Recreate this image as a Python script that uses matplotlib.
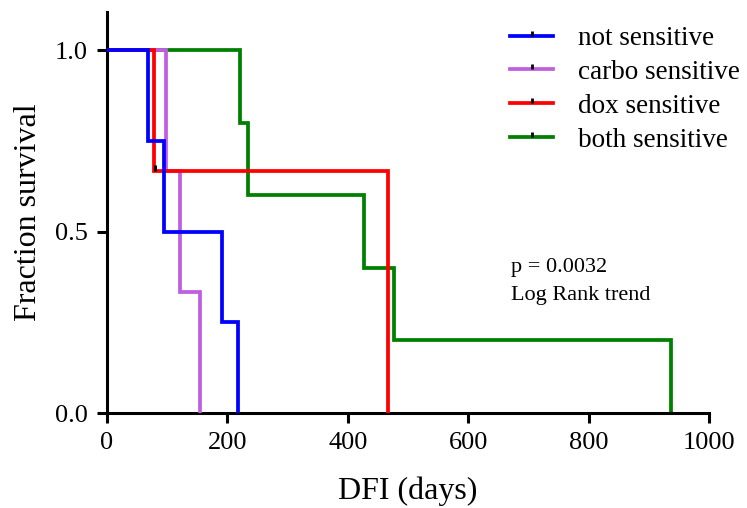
import matplotlib
matplotlib.use("Agg")
import matplotlib.pyplot as plt
from matplotlib.path import Path
from matplotlib.lines import Line2D

plt.rcParams['font.family'] = ['Liberation Serif', 'DejaVu Serif']

# Kaplan-Meier step data: event times (days) and survival fraction after each step
not_t = [0, 68, 95, 191, 218]
not_s = [1.0, 0.75, 0.5, 0.25, 0.0]

carbo_t = [0, 98, 121, 155]
carbo_s = [1.0, 2 / 3, 1 / 3, 0.0]

dox_t = [0, 78, 467]
dox_s = [1.0, 2 / 3, 0.0]

both_t = [0, 221, 234, 427, 477, 937]
both_s = [1.0, 0.8, 0.6, 0.4, 0.2, 0.0]

# censored observation
dox_cens_t = [80]
dox_cens_s = [2 / 3]

labels = ["not sensitive", "carbo sensitive", "dox sensitive", "both sensitive"]
colors = ["#0000FF", "#BF5FDF", "#FF0000", "#008000"]

x_ticks = [0, 200, 400, 600, 800, 1000]
y_ticks = [0.0, 0.5, 1.0]

W, H = 747, 508
fig = plt.figure(figsize=(W / 100, H / 100), dpi=100)
ax = fig.add_axes([107 / W, 1 - 413 / H, (709 - 107) / W, (413 - 12) / H])

lw = 2.7
series = [(not_t, not_s), (carbo_t, carbo_s), (dox_t, dox_s), (both_t, both_s)]
zorders = [5, 3, 4, 2]
for (t, s), c, z in zip(series, colors, zorders):
    ax.step(t, s, where="post", color=c, lw=lw, zorder=z, solid_joinstyle="miter")

# upward censor tick
tick_up = Path([(0, 0), (0, 1)], [Path.MOVETO, Path.LINETO])
ax.plot(dox_cens_t, dox_cens_s, ls="none", marker=tick_up, markersize=8,
        markeredgecolor="black", markeredgewidth=2.2, zorder=6)

ax.set_xlim(0, 1000)
ax.set_ylim(0, 1.105)
ax.set_xticks(x_ticks)
ax.set_yticks(y_ticks)
ax.set_yticklabels([f"{v:.1f}" for v in y_ticks])
ax.tick_params(direction="out", length=7, width=2.2, labelsize=19)
ax.tick_params(axis="x", pad=7)
ax.tick_params(axis="y", pad=7)

for side in ["top", "right"]:
    ax.spines[side].set_visible(False)
for side in ["left", "bottom"]:
    ax.spines[side].set_linewidth(2.2)

ax.set_xlabel("DFI (days)", fontsize=23, labelpad=16)
ax.set_ylabel("Fraction survival", fontsize=23, labelpad=8)

handles = [Line2D([0, 1], [0, 0], color=c, lw=2.7, marker=tick_up, markersize=7,
                  markeredgecolor="black", markeredgewidth=2.0) for c in colors]
leg = fig.legend(handles, labels, loc="upper left",
                 bbox_to_anchor=(510 / W, 1 - 26 / H), bbox_transform=fig.transFigure,
                 frameon=False, fontsize=19.5, numpoints=1, handlelength=1.6,
                 handletextpad=0.9, labelspacing=0.33, borderpad=0, borderaxespad=0)

ax.text(671, 0.401, "p = 0.0032", fontsize=16, ha="left", va="center")
ax.text(671, 0.325, "Log Rank trend", fontsize=16, ha="left", va="center")

fig.savefig("out.png", dpi=100)
